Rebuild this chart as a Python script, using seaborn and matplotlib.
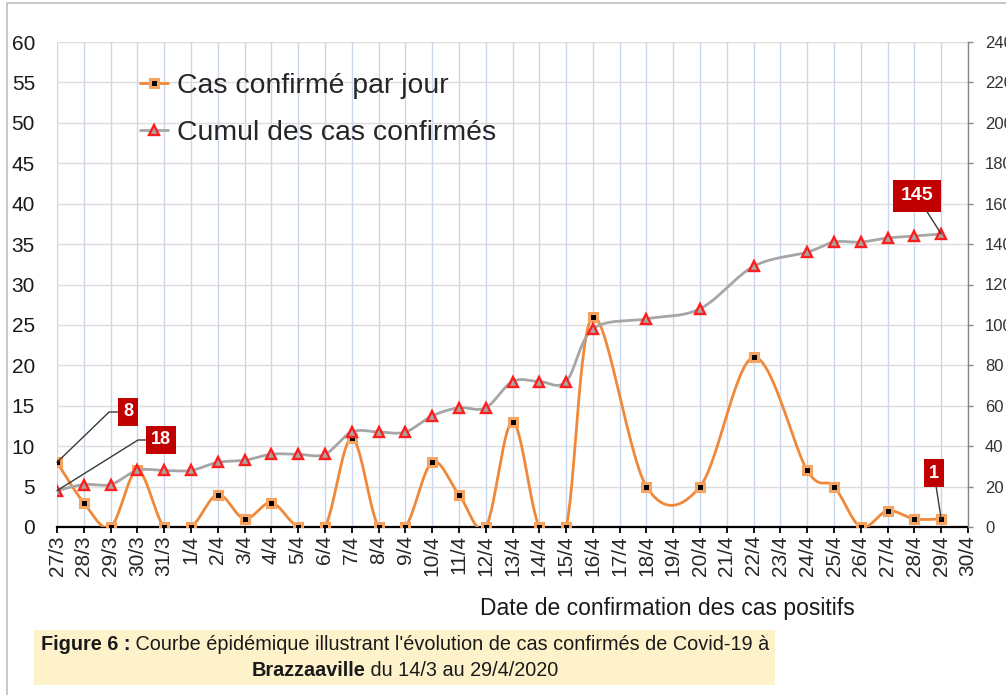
import matplotlib
matplotlib.use('Agg')
import matplotlib.pyplot as plt
from matplotlib.lines import Line2D
from matplotlib.patches import Rectangle
import seaborn as sns
import numpy as np

nan = np.nan
dates = ['27/3', '28/3', '29/3', '30/3', '31/3', '1/4', '2/4', '3/4', '4/4', '5/4',
         '6/4', '7/4', '8/4', '9/4', '10/4', '11/4', '12/4', '13/4', '14/4', '15/4',
         '16/4', '17/4', '18/4', '19/4', '20/4', '21/4', '22/4', '23/4', '24/4', '25/4',
         '26/4', '27/4', '28/4', '29/4', '30/4']
cas_jour = [8, 3, 0, 7, 0, 0, 4, 1, 3, 0, 0, 11, 0, 0, 8, 4, 0, 13, 0, 0,
            26, nan, 5, nan, 5, nan, 21, nan, 7, 5, 0, 2, 1, 1, nan]
cumul = [18, 21, 21, 28, 28, 28, 32, 33, 36, 36, 36, 47, 47, 47, 55, 59, 59, 72, 72, 72,
         98, nan, 103, nan, 108, nan, 129, nan, 136, 141, 141, 143, 144, 145, nan]
labels = ['Cas confirmé par jour', 'Cumul des cas confirmés']

W, H = 1006, 695
PX = 72 / 100  # points per pixel
ORANGE = '#F0883A'
ORANGE_EDGE = '#F5A35E'
GREY = '#A6A6A6'
RED = '#FF1E1E'
DARKRED = '#C00000'


def smooth(xs, ys, n=30):
    # excel-like smoothed line: bezier segments with catmull-rom control points
    pts = np.column_stack([xs, ys])
    out = []
    for i in range(len(pts) - 1):
        p0 = pts[max(i - 1, 0)]
        p1 = pts[i]
        p2 = pts[i + 1]
        p3 = pts[min(i + 2, len(pts) - 1)]
        c1 = p1 + (p2 - p0) / 6
        c2 = p2 - (p3 - p1) / 6
        t = np.linspace(0, 1, n)[:, None]
        seg = (1 - t) ** 3 * p1 + 3 * (1 - t) ** 2 * t * c1 + 3 * (1 - t) * t ** 2 * c2 + t ** 3 * p2
        out.append(seg if i == 0 else seg[1:])
    out = np.vstack(out)
    return out[:, 0], out[:, 1]


sns.set_theme(style='white')
plt.rcParams['font.family'] = ['Liberation Sans', 'DejaVu Sans']

fig = plt.figure(figsize=(W / 100, H / 100), dpi=100)
ax = fig.add_axes([57 / W, 1 - 527 / H, 911 / W, 485 / H])
ax2 = ax.twinx()

x = np.arange(len(dates))
d = np.array(cas_jour, float)
c = np.array(cumul, float)
mj = ~np.isnan(d)
mc = ~np.isnan(c)

# daily cases, left axis
sx, sy = smooth(x[mj], d[mj])
sns.lineplot(x=sx, y=sy, ax=ax, color=ORANGE, lw=2, sort=False, estimator=None, zorder=3)
ax.plot(x[mj], d[mj], ls='none', marker='s', ms=5.5, mfc='black', mec=ORANGE_EDGE, mew=2.2, zorder=4)

# cumulative, right axis
cx, cy = smooth(x[mc], c[mc])
sns.lineplot(x=cx, y=cy, ax=ax2, color=GREY, lw=2, sort=False, estimator=None, zorder=3)
ax2.plot(x[mc], c[mc], ls='none', marker='^', ms=7.5, mfc=GREY, mec=RED, mew=1.7, zorder=4)

ax.set_xlim(0, len(dates) - 1)
ax.set_ylim(0, 60)
ax2.set_ylim(0, 240)
ax.set_xticks(x)
ax.set_xticklabels(dates, rotation=90, fontsize=15)
ax.set_yticks(range(0, 61, 5))
ax2.set_yticks(range(0, 241, 20))

ax.tick_params(axis='x', bottom=True, direction='out', length=6 * PX, width=1.3, color='black',
               pad=2 * PX)
ax.tick_params(axis='y', left=False, length=0, pad=22 * PX, labelsize=15, labelcolor='#1a1a1a')
ax2.tick_params(axis='y', right=True, direction='out', length=5 * PX, width=1, color='#868686',
                pad=12 * PX, labelsize=12, labelcolor='#333333')

ax.set_axisbelow(True)
ax.xaxis.grid(True, color='#C9D6EC', lw=1)
ax.yaxis.grid(True, color='#DCDCDC', lw=1)

for s in ['left', 'top', 'right']:
    ax.spines[s].set_visible(False)
ax.spines['bottom'].set_color('black')
ax.spines['bottom'].set_linewidth(1.6)
for s in ['left', 'top', 'bottom']:
    ax2.spines[s].set_visible(False)
ax2.spines['right'].set_color('#868686')
ax2.spines['right'].set_linewidth(1)

ax.set_xlabel('Date de confirmation des cas positifs', fontsize=16.5, color='#1a1a1a')
ax.xaxis.set_label_coords((667 - 57) / 911, (527 - 597) / 485)
ax.set_ylabel('')
ax2.set_ylabel('')

# data labels
lead = dict(arrowstyle='-', color='#3a3a3a', lw=1, shrinkA=0, shrinkB=0)
txt = dict(textcoords='figure pixels', ha='center', va='center', color='white',
           weight='bold', fontsize=13, zorder=6,
           bbox=dict(boxstyle='square,pad=0.3', fc=DARKRED, ec='none'))
ax2.annotate('8', xy=(0, cas_jour[0]), xycoords=ax.transData, xytext=(128, H - 412),
             arrowprops=dict(lead, connectionstyle='angle,angleA=0,angleB=44,rad=0'), **txt)
ax2.annotate('18', xy=(0, cumul[0]), xycoords='data', xytext=(161, H - 440),
             arrowprops=dict(lead, connectionstyle='angle,angleA=0,angleB=32,rad=0'), **txt)
ax2.annotate('145', xy=(33, cumul[33]), xycoords='data', xytext=(917, H - 196),
             arrowprops=dict(lead, connectionstyle='arc3'),
             **dict(txt, fontsize=14, bbox=dict(boxstyle='square,pad=0.38', fc=DARKRED, ec='none')))
ax2.annotate('1', xy=(33, cas_jour[33]), xycoords=ax.transData, xytext=(934, H - 473),
             arrowprops=dict(lead, connectionstyle='arc3'), **txt)

# legend
h1 = Line2D([], [], color=ORANGE, lw=2, marker='s', ms=5.5, mfc='black', mec=ORANGE_EDGE, mew=2.2)
h2 = Line2D([], [], color=GREY, lw=2, marker='^', ms=7.5, mfc=GREY, mec=RED, mew=1.7)
ax2.legend([h1, h2], labels, loc='upper left', bbox_to_anchor=(140 / W, 1 - 73 / H),
           bbox_transform=fig.transFigure, frameon=False, fontsize=20.4, handlelength=1.0,
           handletextpad=0.32, labelspacing=0.74, borderpad=0, borderaxespad=0)

# outer frame
fig.add_artist(Line2D([7 / W, 7 / W, 1], [0, 1 - 3 / H, 1 - 3 / H], transform=fig.transFigure,
                      color='#BFBFBF', lw=1.2))

# caption
fig.add_artist(Rectangle((34 / W, 1 - 685 / H), 741 / W, 55 / H, transform=fig.transFigure,
                         fc='#FEF2CB', ec='none'))
cap_family = ['Liberation Sans Narrow', 'Liberation Sans', 'DejaVu Sans']
lines = [
    ([('Figure 6 :', 'bold'),
      (" Courbe épidémique illustrant l'évolution de cas confirmés de Covid-19 à", 'normal')], 645),
    ([('Brazzaaville', 'bold'), (' du 14/3 au 29/4/2020', 'normal')], 671),
]
renderer = fig.canvas.get_renderer()
objs = []
for parts, yc in lines:
    row = [fig.text(0, 1 - yc / H, s, weight=w, family=cap_family, fontsize=14,
                    va='center', ha='left', color='#1a1a1a') for s, w in parts]
    objs.append(row)
# scale caption so first line spans about 730 px
w1 = sum(t.get_window_extent(renderer).width for t in objs[0])
fs = 14 * 730 / w1
for row in objs:
    for t in row:
        t.set_fontsize(fs)
for row in objs:
    widths = [t.get_window_extent(renderer).width for t in row]
    xs = 405 - sum(widths) / 2
    for t, w in zip(row, widths):
        t.set_x(xs / W)
        xs += w

fig.savefig('out.png', dpi=100)
